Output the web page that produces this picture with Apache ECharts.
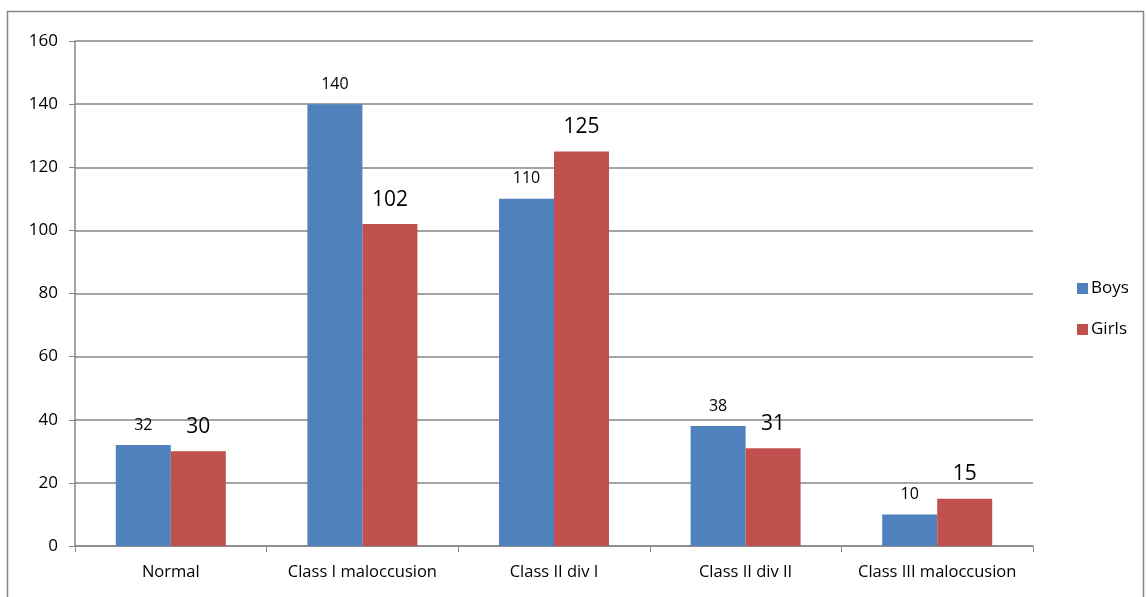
<!DOCTYPE html>
<html>
<head>
<meta charset="utf-8">
<script src="https://cdn.jsdelivr.net/npm/echarts@6/dist/echarts.min.js"></script>
<style>
  html, body { margin: 0; padding: 0; background: #fff; }
  #chart { width: 1147px; height: 597px; }
</style>
</head>
<body>
<div id="chart"></div>
<script>
var categories = ['Normal', 'Class I maloccusion', 'Class II div I', 'Class II div II', 'Class III maloccusion']
var boys = [32, 140, 110, 38, 10]
var girls = [30, 102, 125, 31, 15]

var chart = echarts.init(document.getElementById('chart'))
var font = '"Open Sans", sans-serif'

chart.setOption({
  animation: false,
  textStyle: { fontFamily: font },
  graphic: [{
    type: 'rect',
    shape: { x: 7.5, y: 11.5, width: 1136, height: 600 },
    style: { fill: 'none', stroke: '#868686', lineWidth: 1.5 },
    silent: true
  }],
  grid: { left: 75, right: 114, top: 41, bottom: 51 },
  legend: {
    orient: 'vertical',
    left: 1072,
    top: 275,
    itemWidth: 11,
    itemHeight: 11,
    itemGap: 24,
    icon: 'rect',
    textStyle: { fontSize: 17, color: '#000', fontFamily: font, padding: [0, 0, 0, -2] },
    data: ['Boys', 'Girls']
  },
  xAxis: {
    type: 'category',
    data: categories,
    axisLine: { lineStyle: { color: '#868686', width: 1.5 } },
    axisTick: { show: true, length: 6, interval: 0, alignWithLabel: false, lineStyle: { color: '#868686' } },
    axisLabel: { color: '#000', fontSize: 16.5, margin: 18, interval: 0, fontFamily: font }
  },
  yAxis: {
    type: 'value',
    min: 0,
    max: 160,
    interval: 20,
    axisLine: { show: true, lineStyle: { color: '#868686', width: 1.5 } },
    axisTick: { show: true, length: 6, lineStyle: { color: '#868686' } },
    axisLabel: { color: '#000', fontSize: 17, margin: 17, fontFamily: font },
    splitLine: { lineStyle: { color: '#868686', width: 1.5 } }
  },
  series: [{
    name: 'Boys',
    type: 'bar',
    data: boys,
    barWidth: 55,
    barGap: '0%',
    itemStyle: { color: '#4F81BD' },
    label: { show: true, position: 'top', distance: 12, fontSize: 16, color: '#000', fontFamily: font }
  }, {
    name: 'Girls',
    type: 'bar',
    data: girls,
    barWidth: 55,
    barGap: '0%',
    itemStyle: { color: '#C0504D' },
    label: { show: true, position: 'top', distance: 14, fontSize: 21, color: '#000', fontFamily: font }
  }]
})
</script>
</body>
</html>
